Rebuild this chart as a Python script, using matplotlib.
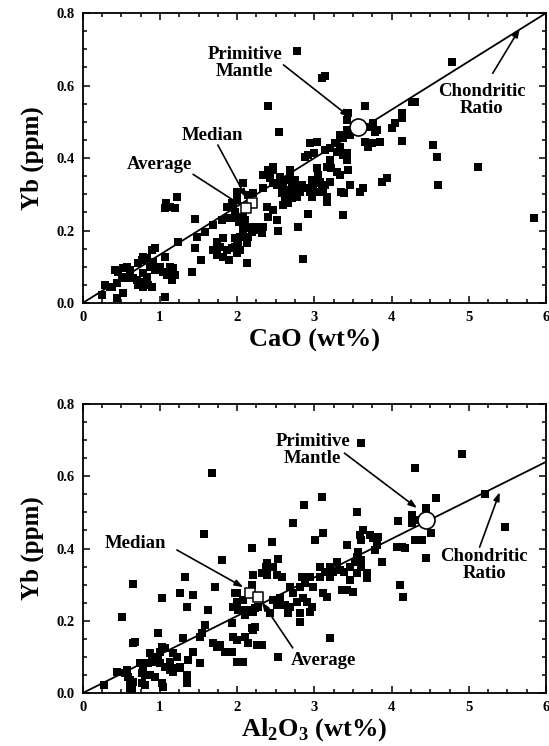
import matplotlib
matplotlib.use("Agg")
import matplotlib.pyplot as plt
from matplotlib.ticker import MultipleLocator, FormatStrFormatter
import numpy as np

plt.rcParams['font.family'] = ['Liberation Serif', 'DejaVu Serif']
plt.rcParams['font.weight'] = 'bold'
plt.rcParams['mathtext.fontset'] = 'custom'
plt.rcParams['mathtext.rm'] = 'Liberation Serif:bold'
plt.rcParams['mathtext.bf'] = 'Liberation Serif:bold'

# ---------------- data: top panel (CaO vs Yb) ----------------
cao = [2.78, 3.10, 3.14, 2.40, 2.54, 3.66, 4.27, 4.78,
       4.14, 4.13, 4.04, 4.00, 3.76, 3.81, 3.72, 3.78,
       3.42, 3.43, 3.46, 3.42, 3.65, 3.69, 3.74, 3.85, 4.14,
       3.37, 3.33, 3.27, 3.20, 3.14, 3.03, 2.92, 2.94, 3.00, 2.88,
       3.20, 3.16, 3.22, 3.29, 3.33, 3.43,
       3.42, 3.42, 3.37, 3.33, 3.29,
       3.03, 3.05, 3.07, 3.10, 3.11, 3.16, 3.16,
       2.97, 2.98, 2.94, 2.97, 2.90, 2.84, 2.81,
       3.20, 3.14, 3.07, 3.00, 2.98, 3.07,
       2.68, 2.68, 2.66, 2.71, 2.72, 2.71, 2.66, 2.59, 2.62, 2.58, 2.59, 2.55, 2.51, 2.46, 2.46, 2.33, 2.42,
       2.40, 2.46, 2.55, 2.66, 2.77, 2.79, 2.75, 2.33,
       3.39, 3.35, 3.46,
       2.92, 3.37, 2.79, 2.53, 2.85,
       3.94, 3.87, 3.63, 3.59,
       4.54, 4.59, 5.12, 4.60, 5.85, 4.30,
       2.39, 2.46, 2.40, 2.51, 2.34, 2.32,
       2.00, 2.00, 1.95, 2.04, 2.10, 2.17, 2.26, 2.08, 2.04, 2.00,
       2.08, 2.14, 2.20,
       1.22, 1.08, 1.13, 1.20, 1.07, 1.45, 1.69, 1.58, 1.48, 1.45, 1.53, 1.41, 1.23,
       1.74, 1.82, 1.78, 1.69, 1.74, 1.82, 1.87, 1.93, 1.89, 1.97, 1.97, 2.01, 2.04, 2.00, 2.13, 2.13,
       2.17, 2.23, 2.19, 2.26, 2.14,
       1.87, 1.93, 1.97, 2.08, 1.95, 2.02, 2.08, 1.80, 1.88,
       0.25, 0.29, 0.38, 0.44, 0.42, 0.46, 0.52, 0.57, 0.61, 0.51, 0.55, 0.61, 0.65, 0.70, 0.74, 0.72,
       0.78, 0.85, 0.90, 0.83, 0.78, 0.77, 0.72, 0.78, 0.83, 0.90, 0.94, 0.87, 0.94, 1.07, 1.13, 1.17,
       1.20, 1.09, 1.16, 1.04, 1.00, 0.52, 1.06, 0.91, 0.44, 0.36]
yb_top = [0.695, 0.620, 0.626, 0.543, 0.473, 0.543, 0.555, 0.665,
          0.524, 0.510, 0.497, 0.483, 0.497, 0.477, 0.486, 0.472,
          0.505, 0.524, 0.463, 0.477, 0.444, 0.430, 0.441, 0.444, 0.447,
          0.455, 0.463, 0.441, 0.428, 0.422, 0.444, 0.408, 0.441, 0.414, 0.403,
          0.394, 0.375, 0.372, 0.361, 0.353, 0.367,
          0.414, 0.394, 0.408, 0.430, 0.417,
          0.372, 0.353, 0.334, 0.320, 0.306, 0.292, 0.279,
          0.340, 0.320, 0.306, 0.292, 0.317, 0.326, 0.306,
          0.334, 0.326, 0.331, 0.334, 0.312, 0.306,
          0.367, 0.353, 0.340, 0.326, 0.306, 0.290, 0.276, 0.270, 0.292, 0.303, 0.320, 0.326, 0.326, 0.331, 0.367, 0.353, 0.345,
          0.367, 0.375, 0.348, 0.312, 0.292, 0.317, 0.340, 0.317,
          0.303, 0.306, 0.326,
          0.246, 0.243, 0.210, 0.200, 0.121,
          0.345, 0.334, 0.317, 0.306,
          0.436, 0.403, 0.375, 0.325, 0.234, 0.555,
          0.265, 0.257, 0.237, 0.229, 0.210, 0.193,
          0.306, 0.284, 0.265, 0.237, 0.229, 0.210, 0.210, 0.201, 0.182, 0.160,
          0.331, 0.298, 0.303,
          0.292, 0.276, 0.265, 0.262, 0.262, 0.232, 0.215, 0.196, 0.182, 0.152, 0.119, 0.086, 0.168,
          0.168, 0.179, 0.155, 0.146, 0.132, 0.127, 0.146, 0.152, 0.119, 0.179, 0.155, 0.166, 0.146, 0.138, 0.110, 0.166,
          0.207, 0.207, 0.196, 0.201, 0.182,
          0.265, 0.276, 0.251, 0.237, 0.234, 0.223, 0.223, 0.229, 0.234,
          0.022, 0.050, 0.044, 0.055, 0.091, 0.086, 0.097, 0.099, 0.091, 0.072, 0.069, 0.077, 0.069, 0.063, 0.058, 0.050,
          0.044, 0.050, 0.044, 0.072, 0.083, 0.119, 0.110, 0.127, 0.124, 0.146, 0.152, 0.099, 0.091, 0.127, 0.099, 0.097,
          0.077, 0.077, 0.063, 0.086, 0.099, 0.028, 0.017, 0.113, 0.014, 0.044]

# ---------------- data: bottom panel (Al2O3 vs Yb) ----------------
al2o3 = [1.67, 1.57, 2.19, 1.80, 0.65, 1.32, 1.26, 1.43, 1.35, 1.03, 1.71, 1.62, 0.51, 0.97, 0.65,
         2.00, 2.08, 1.95, 2.01, 2.10, 2.17, 2.23,
         1.58, 1.54, 1.52,
         1.93, 1.95, 2.00, 1.93, 2.00, 2.08, 2.10, 2.20, 2.23, 2.14, 2.26,
         1.69, 1.74, 1.78, 1.84,
         1.30, 1.43, 1.36, 1.52, 1.26, 1.35, 1.35,
         1.03, 1.07, 1.00, 0.97, 0.87, 0.90, 0.85, 0.94, 1.00, 1.07, 1.13, 1.17, 1.22, 1.13, 1.17, 1.22, 1.26,
         0.74, 0.78, 0.77, 0.81, 0.87, 0.94, 0.77, 0.81, 0.61, 1.03, 1.04,
         0.44, 0.57, 0.59, 0.65, 0.61, 0.27, 0.55, 0.64, 0.68,
         2.53, 2.32, 2.19,
         3.61, 4.30, 3.10, 2.87, 3.55, 2.72, 3.11, 3.01, 2.45, 3.42,
         3.63, 3.59, 3.61, 3.72, 3.76, 3.82, 3.81, 3.78, 3.87,
         4.08, 4.26, 4.32, 4.27,
         4.07, 4.13, 4.17, 4.30, 4.40, 4.45, 4.11, 4.15,
         2.53, 2.46, 2.51, 2.58, 2.39, 2.32, 2.21, 2.19,
         2.84, 2.88, 2.81, 2.94, 2.98, 3.07, 3.07, 3.14, 3.20, 3.29, 3.20, 3.24, 3.33, 3.39, 3.46, 3.53,
         3.55, 3.57, 3.61, 3.61, 3.55, 3.68, 3.68, 3.46, 3.36, 3.42, 3.50, 3.11, 3.16,
         2.68, 2.72, 2.55, 2.46, 2.51, 2.62, 2.68, 2.77, 2.66, 2.81, 2.94,
         2.42, 2.27, 2.21, 2.06, 2.00, 1.97,
         3.20, 2.97, 2.90, 2.85, 2.81,
         5.47, 5.21, 4.91, 4.58, 4.44, 4.51,
         2.39, 2.38]
yb_bot = [0.609, 0.440, 0.401, 0.369, 0.302, 0.321, 0.277, 0.271, 0.238, 0.263, 0.293, 0.230, 0.210, 0.166, 0.138,
          0.277, 0.257, 0.238, 0.230, 0.216, 0.230, 0.235,
          0.188, 0.166, 0.155,
          0.194, 0.155, 0.147, 0.113, 0.086, 0.086, 0.155, 0.174, 0.183, 0.138, 0.133,
          0.138, 0.127, 0.133, 0.113,
          0.152, 0.113, 0.091, 0.083, 0.072, 0.050, 0.028,
          0.127, 0.125, 0.113, 0.100, 0.111, 0.097, 0.083, 0.086, 0.083, 0.072, 0.064, 0.058, 0.069, 0.086, 0.111, 0.100, 0.069,
          0.083, 0.069, 0.055, 0.050, 0.050, 0.044, 0.028, 0.022, 0.014, 0.028, 0.017,
          0.058, 0.064, 0.044, 0.030, 0.036, 0.022, 0.055, 0.011, 0.141,
          0.100, 0.133, 0.180,
          0.692, 0.623, 0.543, 0.520, 0.501, 0.471, 0.443, 0.424, 0.418, 0.410,
          0.451, 0.437, 0.424, 0.437, 0.429, 0.432, 0.410, 0.396, 0.363,
          0.476, 0.493, 0.479, 0.471,
          0.404, 0.404, 0.401, 0.424, 0.424, 0.374, 0.299, 0.266,
          0.371, 0.349, 0.327, 0.321, 0.327, 0.332, 0.327, 0.299,
          0.321, 0.304, 0.293, 0.321, 0.293, 0.349, 0.321, 0.335, 0.349, 0.363, 0.321, 0.335, 0.340, 0.335, 0.349, 0.363,
          0.376, 0.390, 0.368, 0.349, 0.332, 0.332, 0.318, 0.313, 0.285, 0.285, 0.280, 0.277, 0.266,
          0.293, 0.277, 0.263, 0.257, 0.244, 0.244, 0.238, 0.252, 0.221, 0.221, 0.224,
          0.221, 0.238, 0.224, 0.230, 0.252, 0.277,
          0.152, 0.238, 0.252, 0.263, 0.197,
          0.460, 0.551, 0.662, 0.540, 0.512, 0.443,
          0.360, 0.349]

# reference points
pm_top = (3.56, 0.486)      # primitive mantle (CaO, Yb)
median_top = (2.19, 0.276)
average_top = (2.12, 0.262)
pm_bot = (4.45, 0.480)      # primitive mantle (Al2O3, Yb)
median_bot = (2.17, 0.277)
average_bot = (2.27, 0.266)
chond_ratio_top = 0.8 / 6.0     # Yb / CaO chondritic
chond_ratio_bot = 0.64 / 6.0    # Yb / Al2O3 chondritic

xticks = [0, 1, 2, 3, 4, 5, 6]
yticks = [0.0, 0.2, 0.4, 0.6, 0.8]

fig = plt.figure(figsize=(5.49, 7.46), dpi=100)
ax1 = fig.add_axes([0.1506, 0.5938, 0.8440, 0.3887])
ax2 = fig.add_axes([0.1506, 0.0710, 0.8440, 0.3874])

tickfs = 10.5
ylabfs = 18
xlabfs = 19
annfs = 13.5


def style(ax):
    ax.set_xlim(0, 6)
    ax.set_ylim(0, 0.8)
    ax.set_xticks(xticks)
    ax.set_yticks(yticks)
    ax.xaxis.set_minor_locator(MultipleLocator(0.25))
    ax.yaxis.set_minor_locator(MultipleLocator(0.05))
    ax.yaxis.set_major_formatter(FormatStrFormatter('%.1f'))
    ax.tick_params(which='both', direction='in', top=True, right=True, width=1.1)
    ax.tick_params(which='major', length=5, labelsize=tickfs, pad=6)
    ax.tick_params(which='minor', length=3)
    for lab in ax.get_xticklabels() + ax.get_yticklabels():
        lab.set_fontweight('bold')
    for sp in ax.spines.values():
        sp.set_linewidth(1.3)


def arrow(ax, tip, start):
    ax.annotate('', xy=tip, xytext=start,
                arrowprops=dict(arrowstyle='-|>,head_length=0.5,head_width=0.18',
                                color='black', lw=1.2, shrinkA=0, shrinkB=0),
                zorder=6)


for ax, xs, ys, ratio, pm, med, avg in [
        (ax1, cao, yb_top, chond_ratio_top, pm_top, median_top, average_top),
        (ax2, al2o3, yb_bot, chond_ratio_bot, pm_bot, median_bot, average_bot)]:
    style(ax)
    lx = np.array([0, 6])
    ax.plot(lx, ratio * lx, color='black', lw=1.3, zorder=2)
    ax.scatter(xs, ys, marker='s', s=40, color='black', linewidths=0, zorder=3)
    ax.scatter([med[0], avg[0]], [med[1], avg[1]], marker='s', s=48,
               facecolor='white', edgecolor='black', linewidths=1.1, zorder=4)
    ax.scatter([pm[0]], [pm[1]], marker='o', s=150, facecolor='white',
               edgecolor='black', linewidths=1.2, zorder=5)
    ax.set_ylabel('Yb (ppm)', fontsize=ylabfs, fontweight='bold', labelpad=9)

ax1.set_xlabel('CaO (wt%)', fontsize=xlabfs, fontweight='bold', labelpad=3)
ax2.set_xlabel(r'Al$_{2}$O$_{3}$ (wt%)', fontsize=xlabfs, fontweight='bold', labelpad=1)

# --- annotations top ---
ax1.text(2.10, 0.662, 'Primitive\nMantle', ha='center', va='center', fontsize=annfs,
         fontweight='bold', linespacing=1.0, zorder=7)
arrow(ax1, (3.46, 0.513), (2.60, 0.657))
ax1.text(5.17, 0.560, 'Chondritic\nRatio', ha='center', va='center', fontsize=annfs,
         fontweight='bold', linespacing=1.0, zorder=7)
arrow(ax1, (5.66, 0.757), (5.31, 0.634))
ax1.text(1.68, 0.462, 'Median', ha='center', va='center', fontsize=annfs,
         fontweight='bold', zorder=7)
arrow(ax1, (2.12, 0.290), (1.75, 0.436))
ax1.text(1.00, 0.382, 'Average', ha='center', va='center', fontsize=annfs,
         fontweight='bold', zorder=7)
arrow(ax1, (2.05, 0.270), (1.43, 0.355))

# --- annotations bottom ---
ax2.text(2.98, 0.672, 'Primitive\nMantle', ha='center', va='center', fontsize=annfs,
         fontweight='bold', linespacing=1.0, zorder=7)
arrow(ax2, (4.33, 0.512), (3.39, 0.664))
ax2.text(5.20, 0.355, 'Chondritic\nRatio', ha='center', va='center', fontsize=annfs,
         fontweight='bold', linespacing=1.0, zorder=7)
arrow(ax2, (5.40, 0.556), (5.14, 0.404))
ax2.text(0.68, 0.415, 'Median', ha='center', va='center', fontsize=annfs,
         fontweight='bold', zorder=7)
arrow(ax2, (2.08, 0.293), (1.22, 0.396))
ax2.text(3.12, 0.091, 'Average', ha='center', va='center', fontsize=annfs,
         fontweight='bold', zorder=7)
arrow(ax2, (2.32, 0.252), (2.72, 0.125))

fig.savefig('out.png', dpi=100)
